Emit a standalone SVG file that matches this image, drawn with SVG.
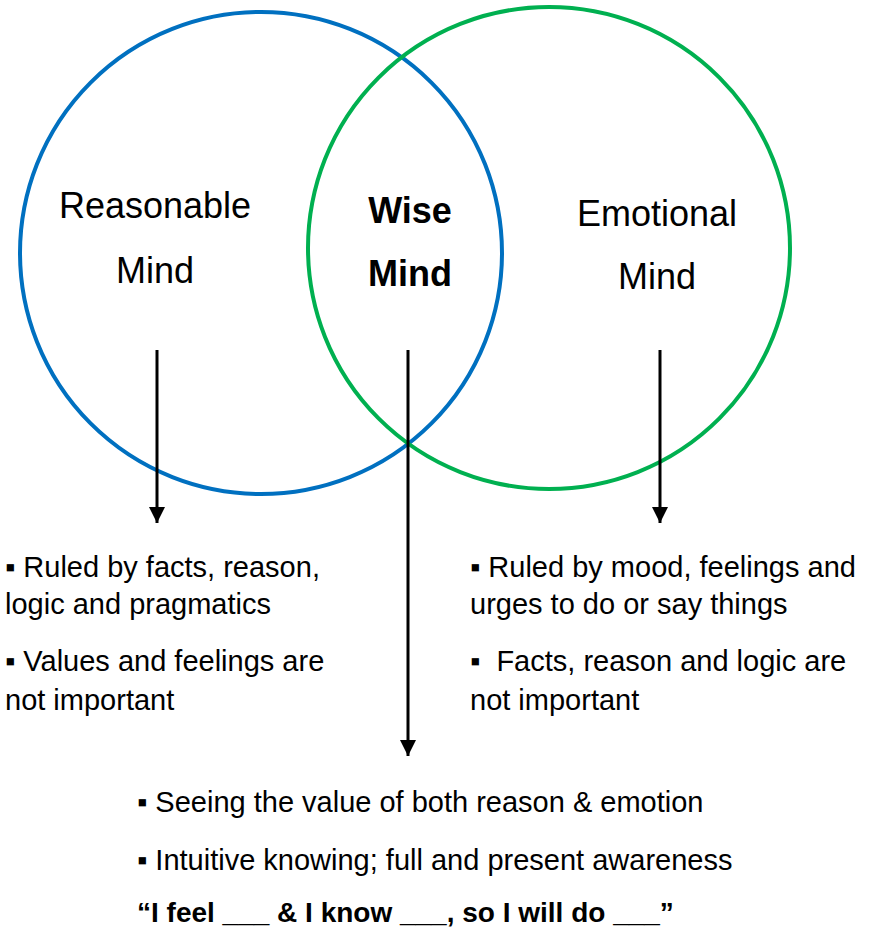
<svg xmlns="http://www.w3.org/2000/svg" width="873" height="929" viewBox="0 0 873 929">
<style>
text{font-family:"Liberation Sans",Arial,sans-serif;fill:#000}
.t{font-size:36px}
.b{font-weight:bold}
.s{font-size:29px}
.q{font-size:28px;font-weight:bold}
.c{text-anchor:middle}
.conn line{stroke:#000;stroke-width:3}
</style>
<defs>
<marker id="ah" viewBox="0 0 10 10" refX="10" refY="5" markerWidth="5.5" markerHeight="5.5" markerUnits="strokeWidth" orient="auto">
<path d="M0,0L10,5L0,10z" fill="#000"/>
</marker>
</defs>
<rect width="873" height="929" fill="#fff"/>
<g id="reasonable">
<circle cx="261" cy="253" r="241" fill="none" stroke="#0070C0" stroke-width="4"/>
<text class="t c" x="155" y="218">Reasonable</text>
<text class="t c" x="155" y="283">Mind</text>
</g>
<g id="emotional">
<circle cx="549" cy="248" r="241" fill="none" stroke="#00B050" stroke-width="4"/>
<text class="t c" x="657" y="226">Emotional</text>
<text class="t c" x="657" y="289">Mind</text>
</g>
<g id="wise">
<text class="t c b" x="410" y="223">Wise</text>
<text class="t c b" x="410" y="286">Mind</text>
</g>
<g class="conn" id="connectors">
<line x1="157" y1="350" x2="157" y2="523" marker-end="url(#ah)"/>
<line x1="408" y1="350" x2="408" y2="756" marker-end="url(#ah)"/>
<line x1="660" y1="350" x2="660" y2="523" marker-end="url(#ah)"/>
</g>
<g id="reasonable-notes">
<text class="s" x="5" y="577">▪ Ruled by facts, reason,</text>
<text class="s" x="5" y="614">logic and pragmatics</text>
<text class="s" x="5" y="671">▪ Values and feelings are</text>
<text class="s" x="5" y="710">not important</text>
</g>
<g id="emotional-notes">
<text class="s" x="470" y="577">▪ Ruled by mood, feelings and</text>
<text class="s" x="470" y="614">urges to do or say things</text>
<text class="s" x="470" y="671" xml:space="preserve">▪  Facts, reason and logic are</text>
<text class="s" x="470" y="710">not important</text>
</g>
<g id="wise-notes">
<text class="s" x="137" y="812">▪ Seeing the value of both reason &amp; emotion</text>
<text class="s" x="137" y="870">▪ Intuitive knowing; full and present awareness</text>
<text class="q" x="137" y="922">“I feel ___ &amp; I know ___, so I will do ___”</text>
</g>
</svg>
